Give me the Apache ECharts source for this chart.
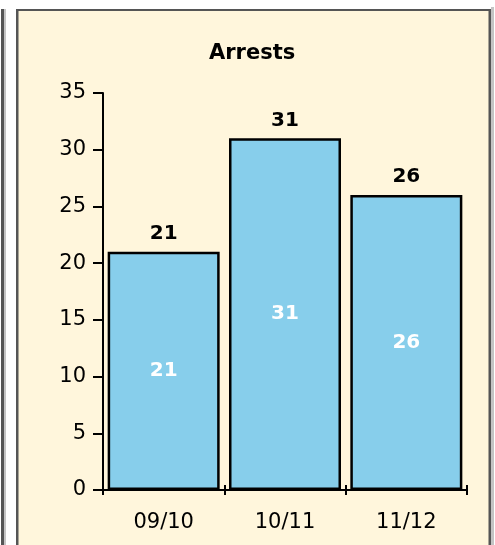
<!DOCTYPE html>
<html>
<head>
<meta charset="utf-8">
<script src="https://cdn.jsdelivr.net/npm/echarts@6/dist/echarts.min.js"></script>
<style>
html,body{margin:0;padding:0;background:#fff;}
#c{width:495px;height:545px;}
</style>
</head>
<body>
<div id="c"></div>
<script>
const title = 'Arrests';
const categories = ['09/10', '10/11', '11/12'];
const arrests = [21, 31, 26];
const yMin = 0, yMax = 35, yStep = 5;

const FONT = '"DejaVu Sans", Verdana, sans-serif';
const chart = echarts.init(document.getElementById('c'), null, {renderer: 'canvas'});
const axisCommon = {
  type: 'category',
  data: categories,
  position: 'bottom',
  boundaryGap: true
};
chart.setOption({
  backgroundColor: '#ffffff',
  animation: false,
  graphic: [
    {type: 'rect', shape: {x: 1, y: 9, width: 3, height: 540}, style: {fill: '#555555'}},
    {type: 'rect', shape: {x: 4, y: 9, width: 2, height: 540}, style: {fill: '#c4c4c4'}},
    {type: 'rect', shape: {x: 491, y: 7, width: 3, height: 540}, style: {fill: '#c4c4c4'}},
    {type: 'rect', shape: {x: 17, y: 9, width: 474, height: 540}, style: {fill: '#fff6dc'}, z: -1},
    {type: 'rect', shape: {x: 16, y: 9, width: 475, height: 2}, style: {fill: '#555555'}},
    {type: 'rect', shape: {x: 16, y: 9, width: 2.5, height: 540}, style: {fill: '#555555'}},
    {type: 'rect', shape: {x: 488.5, y: 9, width: 2.5, height: 540}, style: {fill: '#555555'}}
  ],
  title: {
    text: title,
    left: 209, top: 43, padding: 0,
    textStyle: {fontFamily: FONT, fontSize: 21, fontWeight: 'bold', color: '#000'}
  },
  grid: {left: 103, right: 28, top: 93, bottom: 55, containLabel: false},
  xAxis: [
    Object.assign({}, axisCommon, {
      axisLine: {show: true, lineStyle: {color: '#000', width: 2}},
      axisTick: {show: true, alignWithLabel: false, length: 5, lineStyle: {color: '#000', width: 2}},
      axisLabel: {fontFamily: FONT, fontSize: 21, color: '#000', margin: 22}
    }),
    Object.assign({}, axisCommon, {
      axisLine: {show: false},
      axisTick: {show: true, inside: true, length: 5, lineStyle: {color: '#000', width: 2}},
      axisLabel: {show: false}
    })
  ],
  yAxis: {
    type: 'value', min: yMin, max: yMax, interval: yStep,
    axisLine: {show: true, lineStyle: {color: '#000', width: 2}},
    axisTick: {show: true, length: 10, lineStyle: {color: '#000', width: 2}},
    splitLine: {show: false},
    axisLabel: {fontFamily: FONT, fontSize: 21, color: '#000', margin: 17}
  },
  series: [
    {
      type: 'bar', data: arrests, xAxisIndex: 0, barWidth: 112,
      itemStyle: {color: '#87ceeb', borderColor: '#000', borderWidth: 2.5},
      label: {show: true, position: 'inside', fontFamily: FONT, fontSize: 20, fontWeight: 'bold', color: '#fff'}
    },
    {
      type: 'bar', data: arrests, xAxisIndex: 1, barWidth: 112,
      itemStyle: {color: 'rgba(0,0,0,0)'},
      label: {show: true, position: 'top', distance: 8, fontFamily: FONT, fontSize: 20, fontWeight: 'bold', color: '#000'}
    }
  ]
});
</script>
</body>
</html>
